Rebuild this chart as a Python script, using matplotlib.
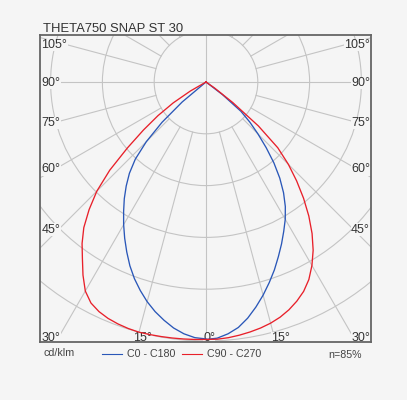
import numpy as np
import matplotlib.pyplot as plt
from matplotlib.patches import Circle

plt.rcParams['font.family'] = ['Liberation Sans', 'DejaVu Sans']

# Ángulos gamma (grados) e intensidades en cd/klm
gamma = [0, 2.5, 5, 7.5, 10, 12.5, 15, 17.5, 20, 22.5, 25, 27.5, 30, 32.5, 35,
         37.5, 40, 42.5, 45, 47.5, 50, 52.5, 55, 57.5, 60, 62.5, 65, 70, 80, 90]
c0 = [497, 495, 488, 478, 463, 445, 426, 406, 386, 365, 345, 325, 306, 285, 261,
      234, 204, 172, 142, 115, 88, 40, 0, 0, 0, 0, 0, 0, 0, 0]
c180 = [496, 494, 488, 479, 467, 454, 439, 422, 404, 384, 362, 340, 318, 296, 275,
        253, 230, 202, 163, 115, 60, 0, 0, 0, 0, 0, 0, 0, 0, 0]
c90 = [497, 497, 495.5, 493, 490, 486.5, 482, 476, 468, 458, 446, 430, 409, 385, 357,
       326, 293, 259, 225, 188, 132, 65, 20, 0, 0, 0, 0, 0, 0, 0]
c270 = [497, 497.5, 498, 498.5, 499, 499.5, 500, 499, 497, 494, 489, 481, 466, 442, 416,
        393, 367, 334, 298, 252, 198, 152, 113, 75, 35, 0, 0, 0, 0, 0]

rings = [100, 200, 300, 400, 500, 600]
title = "THETA750 SNAP ST 30"
legend_labels = ["C0 - C180", "C90 - C270"]
blue = '#2a57b8'
red = '#e8202a'
bg = '#f5f5f5'
grid_c = '#c4c4c4'
txt_c = '#333333'

W, H = 407, 400
fig = plt.figure(figsize=(W / 100, H / 100), dpi=100, facecolor=bg)

# caja del diagrama en píxeles
bx0, bx1, by0, by1 = 40, 371, 35, 342
cx, cy = 206, 82
ppu = 51.8 / 100  # píxeles por cd/klm

ax = fig.add_axes([bx0 / W, 1 - by1 / H, (bx1 - bx0) / W, (by1 - by0) / H])
ax.set_facecolor(bg)
ax.set_xlim(-(cx - bx0) / ppu, (bx1 - cx) / ppu)
ax.set_ylim(-(by1 - cy) / ppu, (cy - by0) / ppu)
ax.set_xticks([])
ax.set_yticks([])
for s in ax.spines.values():
    s.set_color('#666666')
    s.set_linewidth(1.3)

# rejilla polar
for r in rings:
    ax.add_patch(Circle((0, 0), r, fill=False, ec=grid_c, lw=0.8, zorder=1))
r_in = rings[0]
for a in range(15, 180, 15):
    if a == 90:
        continue
    t = np.radians(a)
    for sgn in (-1, 1):
        ax.plot([sgn * r_in * np.sin(t), sgn * 1500 * np.sin(t)],
                [-r_in * np.cos(t), -1500 * np.cos(t)], color=grid_c, lw=0.8, zorder=1)
ax.axvline(0, color=grid_c, lw=0.8, zorder=1)
ax.axhline(0, color=grid_c, lw=0.8, zorder=1)

# curvas
g = np.radians(gamma)
def half(vals, sgn):
    v = np.array(vals)
    return sgn * v * np.sin(g), -v * np.cos(g)

xr, yr = half(c0, 1)
xl, yl = half(c180, -1)
ax.plot(np.concatenate([xl[::-1], xr]), np.concatenate([yl[::-1], yr]), color=blue, lw=0.95, zorder=3)
xr, yr = half(c90, 1)
xl, yl = half(c270, -1)
ax.plot(np.concatenate([xl[::-1], xr]), np.concatenate([yl[::-1], yr]), color=red, lw=0.95, zorder=3)

# etiquetas de ángulo (encima de la rejilla, debajo de las curvas)
def atext(x, y, s, **kw):
    ax.text(x / W, 1 - y / H, s, transform=fig.transFigure, clip_on=False, **kw)

def ftext(x, y, s, **kw):
    fig.text(x / W, 1 - y / H, s, **kw)

lab = dict(fontsize=9, color=txt_c, va='baseline', zorder=2,
           bbox=dict(fc=bg, ec='none', pad=0.3))
side = [("105°", 48), ("90°", 86), ("75°", 126), ("60°", 172.5), ("45°", 232.5), ("30°", 341)]
for s, yb in side:
    atext(41.5, yb, s, ha='left', **lab)
    atext(370, yb, s, ha='right', **lab)
atext(133.5, 341, "15°", ha='left', **lab)
atext(209, 341, "0°", ha='center', **lab)
atext(271, 341, "15°", ha='left', **lab)

ftext(43, 31.5, title, fontsize=9.4, color=txt_c, ha='left', va='baseline')

small = dict(fontsize=7.7, color='#444444', va='baseline')
ftext(43, 356, "cd/klm", ha='left', **small)
ftext(127, 357, legend_labels[0], ha='left', **small)
ftext(207, 357, legend_labels[1], ha='left', **small)
ftext(361.5, 358, "n=85%", ha='right', **small)
fig.add_artist(plt.Line2D([102 / W, 122 / W], [1 - 353.7 / H] * 2, color=blue, lw=0.8))
fig.add_artist(plt.Line2D([182 / W, 202 / W], [1 - 353.7 / H] * 2, color=red, lw=0.8))

fig.savefig('out.png', dpi=100, facecolor=bg)
